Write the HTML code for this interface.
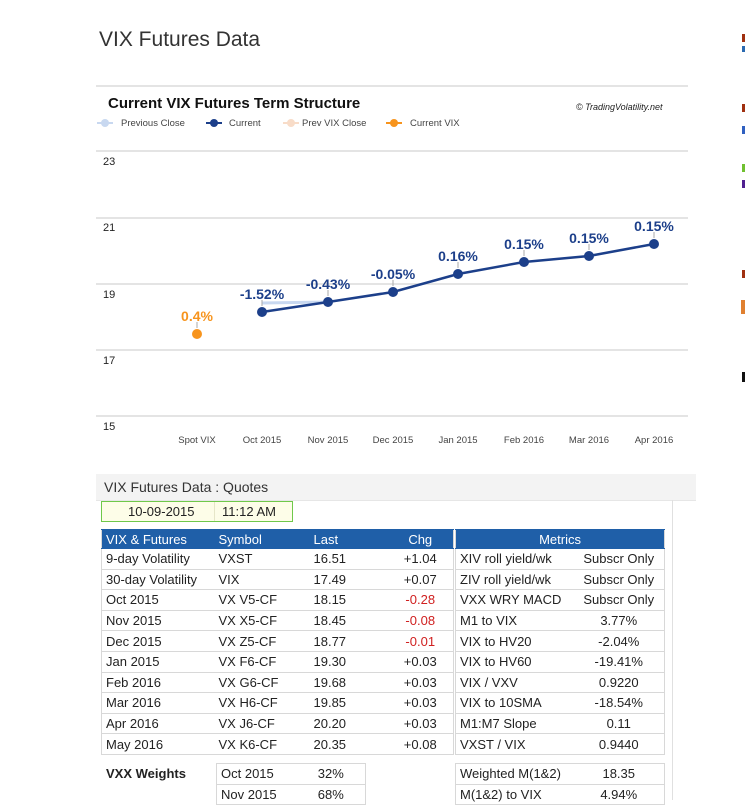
<!DOCTYPE html>
<html><head><meta charset="utf-8"><style>
body{margin:0;width:745px;height:800px;background:#fff;font-family:"Liberation Sans",sans-serif;position:relative;overflow:hidden;color:#222}
.a{position:absolute}
table{border-collapse:collapse;position:absolute;font-size:13px;table-layout:fixed;border:1px solid #d8d8d8}
td{border-top:1px solid #d8d8d8;border-bottom:1px solid #d8d8d8;padding:0 0 0 4px;height:19.6px;white-space:nowrap}
tr.h td{background:#1f5fa8;color:#fff;border-color:#1f5fa8;height:18px}
.c{text-align:center;padding:0}
.r{color:#d02020}
</style></head><body>
<div class="a" style="left:99px;top:28px;font-size:21px;color:#333">VIX Futures Data</div>
<div class="a" style="left:96px;top:85px;width:592px;height:2px;background:#e4e4e4"></div>
<div class="a" style="left:108px;top:95px;font-size:15px;font-weight:bold;color:#111">Current VIX Futures Term Structure</div>
<div class="a" style="left:576px;top:102px;font-size:9px;font-style:italic;color:#222">© TradingVolatility.net</div>
<svg class="a" style="left:0;top:0" width="745" height="470">
<g font-family="Liberation Sans" font-size="9.5" fill="#444">
<line x1="97" y1="123" x2="113" y2="123" stroke="#c8d8f0" stroke-width="2"/><circle cx="105" cy="123" r="4" fill="#c8d8f0"/><text x="121" y="126">Previous Close</text>
<line x1="206" y1="123" x2="222" y2="123" stroke="#1c3f8a" stroke-width="2"/><circle cx="214" cy="123" r="4" fill="#1c3f8a"/><text x="229" y="126">Current</text>
<line x1="283" y1="123" x2="299" y2="123" stroke="#f8dcc8" stroke-width="2"/><circle cx="291" cy="123" r="4" fill="#f8dcc8"/><text x="302" y="126">Prev VIX Close</text>
<line x1="386" y1="123" x2="402" y2="123" stroke="#f7941d" stroke-width="2"/><circle cx="394" cy="123" r="4" fill="#f7941d"/><text x="410" y="126">Current VIX</text>
</g>
<g stroke="#dcdcdc" stroke-width="1.5">
<line x1="96" y1="151" x2="688" y2="151"/><line x1="96" y1="218" x2="688" y2="218"/><line x1="96" y1="284" x2="688" y2="284"/><line x1="96" y1="350" x2="688" y2="350"/><line x1="96" y1="416" x2="688" y2="416"/>
</g>
<g font-family="Liberation Sans" font-size="11" fill="#222">
<text x="103" y="165">23</text><text x="103" y="231">21</text><text x="103" y="298">19</text><text x="103" y="364">17</text><text x="103" y="430">15</text>
</g>
<g font-family="Liberation Sans" font-size="9.5" fill="#444" text-anchor="middle">
<text x="197" y="443">Spot VIX</text><text x="262" y="443">Oct 2015</text><text x="328" y="443">Nov 2015</text><text x="393" y="443">Dec 2015</text><text x="458" y="443">Jan 2015</text><text x="524" y="443">Feb 2016</text><text x="589" y="443">Mar 2016</text><text x="654" y="443">Apr 2016</text>
</g>
<polyline points="262,303 328,302" stroke="#c8d8f0" stroke-width="3" fill="none"/>
<polyline points="262,312 328,302 393,292 458,274 524,262 589,256 654,244" stroke="#1c3f8a" stroke-width="2.5" fill="none"/>
<g fill="#1c3f8a"><circle cx="262" cy="312" r="5"/><circle cx="328" cy="302" r="5"/><circle cx="393" cy="292" r="5"/><circle cx="458" cy="274" r="5"/><circle cx="524" cy="262" r="5"/><circle cx="589" cy="256" r="5"/><circle cx="654" cy="244" r="5"/></g>
<circle cx="197" cy="334" r="5" fill="#f7941d"/>
<g stroke="#aaa" stroke-width="1"><line x1="262" y1="306" x2="262" y2="300"/><line x1="328" y1="296" x2="328" y2="290"/><line x1="393" y1="286" x2="393" y2="280"/><line x1="458" y1="268" x2="458" y2="262"/><line x1="524" y1="256" x2="524" y2="250"/><line x1="589" y1="250" x2="589" y2="244"/><line x1="654" y1="238" x2="654" y2="232"/><line x1="197" y1="328" x2="197" y2="322"/></g>
<g font-family="Liberation Sans" font-size="14" font-weight="bold" fill="#1c3f8a" text-anchor="middle">
<text x="262" y="299">-1.52%</text><text x="328" y="289">-0.43%</text><text x="393" y="279">-0.05%</text><text x="458" y="261">0.16%</text><text x="524" y="249">0.15%</text><text x="589" y="243">0.15%</text><text x="654" y="231">0.15%</text>
<text x="197" y="321" fill="#f7941d">0.4%</text>
</g>
<g><rect x="742" y="34" width="3" height="8" fill="#a03010"/><rect x="742" y="46" width="3" height="6" fill="#2a6ab0"/><rect x="742" y="104" width="3" height="8" fill="#a03010"/><rect x="742" y="126" width="3" height="8" fill="#3060c0"/><rect x="742" y="164" width="3" height="8" fill="#70c030"/><rect x="742" y="180" width="3" height="8" fill="#502090"/><rect x="742" y="270" width="3" height="8" fill="#a03010"/><rect x="741" y="300" width="4" height="14" fill="#e08030"/><rect x="742" y="372" width="3" height="10" fill="#111"/></g>
</svg>
<div class="a" style="left:96px;top:474px;width:600px;height:26px;background:#f3f3f3;border-bottom:1px solid #e6e6e6"></div>
<div class="a" style="left:104px;top:479px;font-size:14px;color:#333">VIX Futures Data : Quotes</div>
<div class="a" style="left:672px;top:500px;width:1px;height:300px;background:#e0e0e0"></div>
<div class="a" style="left:101px;top:501px;width:190px;height:19px;background:#fdfde8;border:1px solid #6fc84a;font-size:13px"><span class="a" style="left:26px;top:2px">10-09-2015</span><span class="a" style="left:120px;top:2px">11:12 AM</span><span class="a" style="left:112px;top:0;width:1px;height:19px;background:#e6e6c8"></span></div>
<table style="left:101px;top:529px;width:352px">
<colgroup><col style="width:113px"><col style="width:95px"><col style="width:78px"><col style="width:66px"></colgroup>
<tr class="h"><td>VIX &amp; Futures</td><td>Symbol</td><td>Last</td><td class="c">Chg</td></tr>
<tr><td>9-day Volatility</td><td>VXST</td><td>16.51</td><td class="c">+1.04</td></tr>
<tr><td>30-day Volatility</td><td>VIX</td><td>17.49</td><td class="c">+0.07</td></tr>
<tr><td>Oct 2015</td><td>VX V5-CF</td><td>18.15</td><td class="c r">-0.28</td></tr>
<tr><td>Nov 2015</td><td>VX X5-CF</td><td>18.45</td><td class="c r">-0.08</td></tr>
<tr><td>Dec 2015</td><td>VX Z5-CF</td><td>18.77</td><td class="c r">-0.01</td></tr>
<tr><td>Jan 2015</td><td>VX F6-CF</td><td>19.30</td><td class="c">+0.03</td></tr>
<tr><td>Feb 2016</td><td>VX G6-CF</td><td>19.68</td><td class="c">+0.03</td></tr>
<tr><td>Mar 2016</td><td>VX H6-CF</td><td>19.85</td><td class="c">+0.03</td></tr>
<tr><td>Apr 2016</td><td>VX J6-CF</td><td>20.20</td><td class="c">+0.03</td></tr>
<tr><td>May 2016</td><td>VX K6-CF</td><td>20.35</td><td class="c">+0.08</td></tr>
</table>
<table style="left:455px;top:529px;width:209px">
<colgroup><col style="width:118px"><col style="width:91px"></colgroup>
<tr class="h"><td colspan="2" class="c">Metrics</td></tr>
<tr><td>XIV roll yield/wk</td><td class="c">Subscr Only</td></tr>
<tr><td>ZIV roll yield/wk</td><td class="c">Subscr Only</td></tr>
<tr><td>VXX WRY MACD</td><td class="c">Subscr Only</td></tr>
<tr><td>M1 to VIX</td><td class="c">3.77%</td></tr>
<tr><td>VIX to HV20</td><td class="c">-2.04%</td></tr>
<tr><td>VIX to HV60</td><td class="c">-19.41%</td></tr>
<tr><td>VIX / VXV</td><td class="c">0.9220</td></tr>
<tr><td>VIX to 10SMA</td><td class="c">-18.54%</td></tr>
<tr><td>M1:M7 Slope</td><td class="c">0.11</td></tr>
<tr><td>VXST / VIX</td><td class="c">0.9440</td></tr>
</table>
<div class="a" style="left:106px;top:766px;font-size:13px;font-weight:bold">VXX Weights</div>
<table style="left:216px;top:763px;width:149px">
<colgroup><col style="width:80px"><col style="width:69px"></colgroup>
<tr><td>Oct 2015</td><td class="c">32%</td></tr>
<tr><td>Nov 2015</td><td class="c">68%</td></tr>
</table>
<table style="left:455px;top:763px;width:209px">
<colgroup><col style="width:118px"><col style="width:91px"></colgroup>
<tr><td>Weighted M(1&amp;2)</td><td class="c">18.35</td></tr>
<tr><td>M(1&amp;2) to VIX</td><td class="c">4.94%</td></tr>
</table>
</body></html>
